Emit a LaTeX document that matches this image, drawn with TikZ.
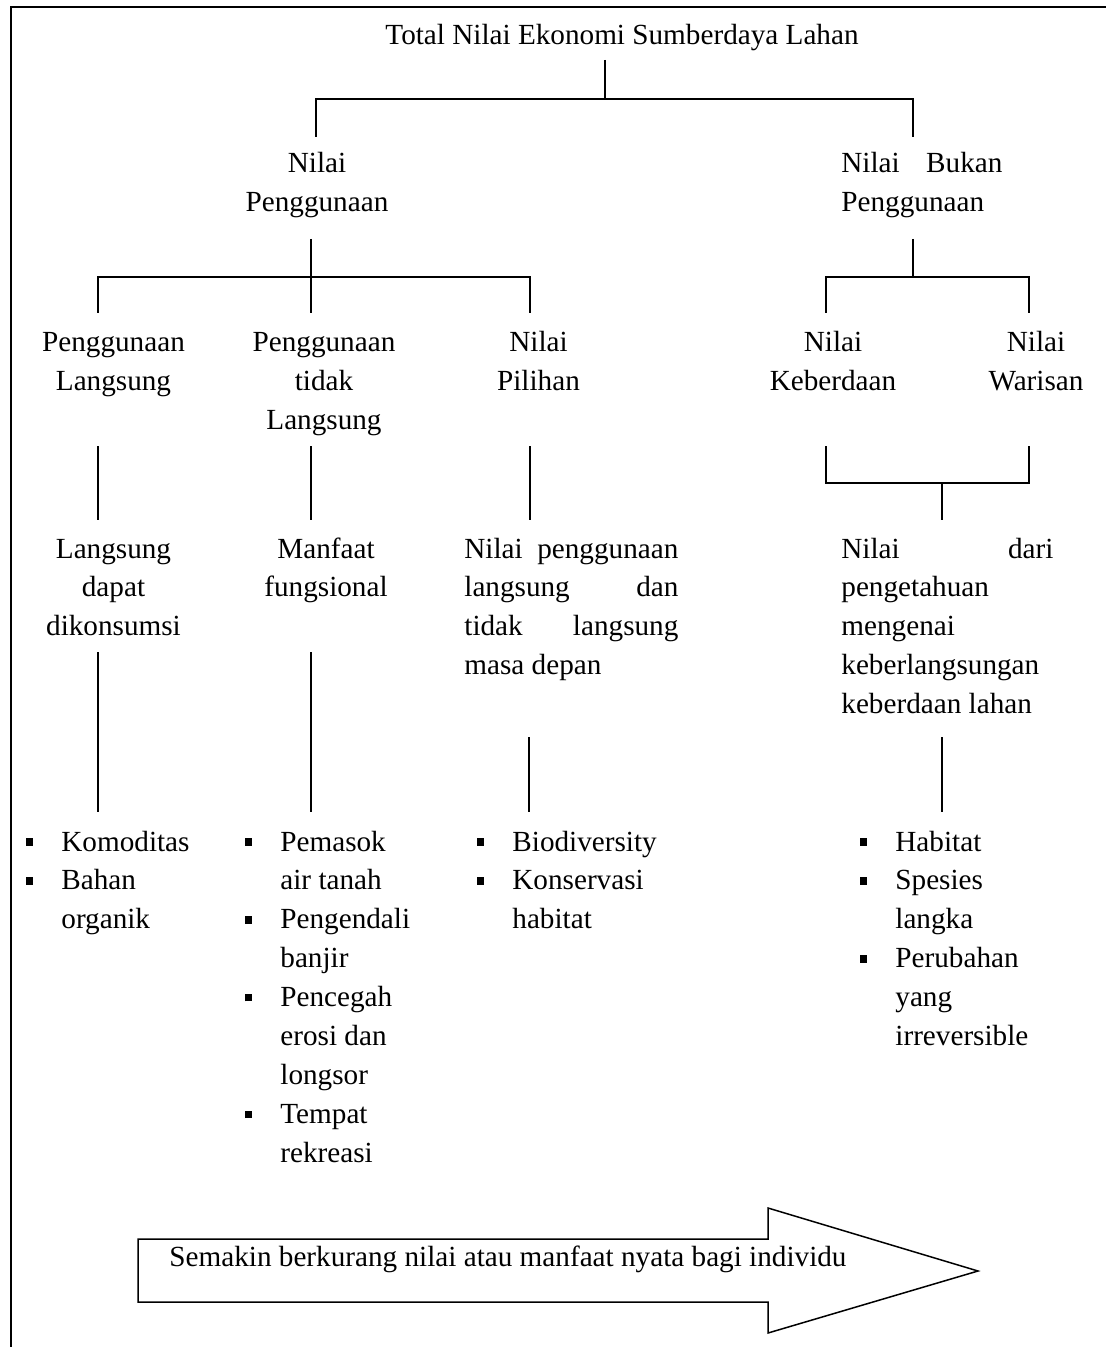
\documentclass[tikz,border=0pt]{standalone}
\usepackage{fontspec}
\setmainfont{Liberation Serif}
\newcommand\fs{\fontsize{14.6pt}{19.45pt}\selectfont}
\newcommand\bul{\leavevmode\llap{\rule[2.6pt]{3.75pt}{3.75pt}\hspace{14.1pt}}}
\begin{document}
\begin{tikzpicture}[x=0.5pt,y=-0.5pt,
  txt/.style={inner sep=0pt, font=\fs, anchor=base},
  ltxt/.style={inner sep=0pt, font=\fs, anchor=base west},
  ln/.style={line width=0.7pt},
  frame/.style={line width=1pt},
  bigarrow/.style={line width=0.75pt, fill=white}]
\useasboundingbox (0,0) rectangle (1106,1347);
% frame
\draw[frame] (10.7,1347) -- (10.7,7.3) -- (1106,7.3);

% texts
\node[txt] (title) at (622,45) {Total Nilai Ekonomi Sumberdaya Lahan};
\node[txt] (np) at (317,173) {\parbox[t]{150pt}{\centering Nilai\\Penggunaan}};
\node[ltxt] (nbp) at (841,173) {\parbox[t]{120pt}{\raggedright\makebox[80.5pt][l]{Nilai\hfill Bukan}\\Penggunaan}};

\node[txt] (pl) at (113.5,352) {\parbox[t]{120pt}{\centering Penggunaan\\Langsung}};
\node[txt] (ptl) at (324,352) {\parbox[t]{120pt}{\centering Penggunaan\\tidak\\Langsung}};
\node[txt] (npl) at (538.5,352) {\parbox[t]{120pt}{\centering Nilai\\Pilihan}};
\node[txt] (nk) at (833,352) {\parbox[t]{120pt}{\centering Nilai\\Keberdaan}};
\node[txt] (nw) at (1036,352) {\parbox[t]{120pt}{\centering Nilai\\Warisan}};

\node[txt] (ldk) at (113.5,558) {\parbox[t]{120pt}{\centering Langsung\\dapat\\dikonsumsi}};
\node[txt] (mf) at (326,558) {\parbox[t]{120pt}{\centering Manfaat\\fungsional}};
\node[ltxt] (npd) at (464,558) {\parbox[t]{120pt}{\raggedright\makebox[107pt][l]{Nilai\hfill penggunaan}\\\makebox[107pt][l]{langsung\hfill dan}\\\makebox[107pt][l]{tidak\hfill langsung}\\masa depan}};
\node[ltxt] (ndp) at (841,558) {\parbox[t]{130pt}{\raggedright\makebox[106pt][l]{Nilai\hfill dari}\\pengetahuan\\mengenai\\keberlangsungan\\keberdaan lahan}};

% bullet lists
\node[ltxt] (b1) at (61,851) {\parbox[t]{100pt}{\raggedright\bul Komoditas\\\bul Bahan\\organik}};
\node[ltxt] (b2) at (280,851) {\parbox[t]{100pt}{\raggedright\bul Pemasok\\air tanah\\\bul Pengendali\\banjir\\\bul Pencegah\\erosi dan\\longsor\\\bul Tempat\\rekreasi}};
\node[ltxt] (b3) at (512,851) {\parbox[t]{100pt}{\raggedright\bul Biodiversity\\\bul Konservasi\\habitat}};
\node[ltxt] (b4) at (895,851) {\parbox[t]{100pt}{\raggedright\bul Habitat\\\bul Spesies\\langka\\\bul Perubahan\\yang\\irreversible}};

% connector coordinates
\coordinate (t1) at (605,60);   \coordinate (t2) at (605,99);
\coordinate (hl) at (316,99);   \coordinate (hlb) at (316,137);
\coordinate (hr) at (913,99);   \coordinate (hrb) at (913,137);

\coordinate (u1) at (311,239);  \coordinate (u2) at (311,313);
\coordinate (ul) at (98,277);   \coordinate (ulb) at (98,313);
\coordinate (ur) at (530,277);  \coordinate (urb) at (530,313);

\coordinate (v1) at (913,239);  \coordinate (v2) at (913,277);
\coordinate (vl) at (826,277);  \coordinate (vlb) at (826,313);
\coordinate (vr) at (1029,277); \coordinate (vrb) at (1029,313);

\coordinate (a1) at (98,446);   \coordinate (a2) at (98,520);
\coordinate (c1) at (311,446);  \coordinate (c2) at (311,520);
\coordinate (d1) at (530,446);  \coordinate (d2) at (530,520);
\coordinate (k1) at (826,446);  \coordinate (k2) at (826,483);
\coordinate (w1) at (1029,446); \coordinate (w2) at (1029,483);
\coordinate (m1) at (942,483);  \coordinate (m2) at (942,520);

\coordinate (e1) at (98,652);   \coordinate (e2) at (98,812);
\coordinate (f1) at (311,652);  \coordinate (f2) at (311,812);
\coordinate (g1) at (529,737);  \coordinate (g2) at (529,812);
\coordinate (h1) at (942,737);  \coordinate (h2) at (942,812);

% connectors
\draw[ln] (t1) -- (t2);
\draw[ln] (hlb) -- (hl) -- (hr) -- (hrb);
\draw[ln] (u1) -- (u2);
\draw[ln] (ulb) -- (ul) -- (ur) -- (urb);
\draw[ln] (v1) -- (v2);
\draw[ln] (vlb) -- (vl) -- (vr) -- (vrb);
\draw[ln] (a1) -- (a2);
\draw[ln] (c1) -- (c2);
\draw[ln] (d1) -- (d2);
\draw[ln] (k1) -- (k2) -- (w2) -- (w1);
\draw[ln] (m1) -- (m2);
\draw[ln] (e1) -- (e2);
\draw[ln] (f1) -- (f2);
\draw[ln] (g1) -- (g2);
\draw[ln] (h1) -- (h2);

% big arrow
\draw[bigarrow] (138,1239) -- (768,1239) -- (768,1208) -- (978,1271)
  -- (768,1333) -- (768,1302) -- (138,1302) -- cycle;
\node[ltxt] (arrtxt) at (169,1266) {Semakin berkurang nilai atau manfaat nyata bagi individu};
\end{tikzpicture}
\end{document}
